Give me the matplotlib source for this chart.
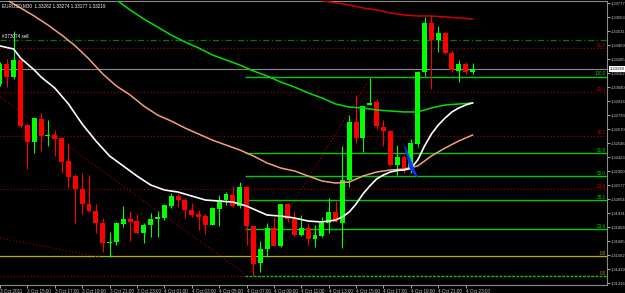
import matplotlib
matplotlib.use('Agg')
import matplotlib.pyplot as plt
import matplotlib.transforms as mtransforms

plt.rcParams['font.family'] = 'Liberation Sans'

# --- chart data (EURUSD M30, 3-4 Oct 2011) ---
header = 'EURUSD,M30  1.33262 1.33274 1.33177 1.33219'
order_label = '#373074 sell'

opens = [1.33068, 1.33243, 1.33129, 1.33279, 1.32707, 1.32558, 1.32760, 1.32611, 1.32619, 1.32593,
         1.32391, 1.32259, 1.32145, 1.32013, 1.31951, 1.31846, 1.31670, 1.31679, 1.31837, 1.31881,
         1.31863, 1.31758, 1.31828, 1.31881, 1.31890, 1.31995, 1.32083, 1.32048, 1.31960, 1.31925,
         1.31907, 1.31828, 1.31969, 1.32048, 1.32092, 1.31995, 1.32162, 1.31819, 1.31494, 1.31617,
         1.31802, 1.31644, 1.32013, 1.31881, 1.31740, 1.31802, 1.31705, 1.31732, 1.31846, 1.31943,
         1.31846, 1.32224, 1.32734, 1.32593, 1.32883, 1.32909, 1.32690, 1.32655, 1.32356, 1.32426,
         1.32329, 1.32540, 1.33173, 1.33604, 1.33454, 1.33516, 1.33340, 1.33182, 1.33243, 1.33173]
highs = [1.33261, 1.33287, 1.33534, 1.33287, 1.32716, 1.32769, 1.32813, 1.32751, 1.32663, 1.32602,
         1.32549, 1.32277, 1.32285, 1.32268, 1.32013, 1.31890, 1.31767, 1.31855, 1.31995, 1.31951,
         1.31925, 1.31846, 1.31934, 1.31951, 1.32004, 1.32110, 1.32110, 1.32066, 1.32022, 1.31960,
         1.31925, 1.31986, 1.32092, 1.32118, 1.32171, 1.32206, 1.32171, 1.31819, 1.31688, 1.31846,
         1.31899, 1.32013, 1.32022, 1.31951, 1.31916, 1.31846, 1.31828, 1.31899, 1.32066, 1.32039,
         1.32523, 1.32795, 1.32971, 1.32874, 1.33120, 1.32936, 1.32751, 1.32663, 1.32531, 1.32444,
         1.32584, 1.33182, 1.33657, 1.33674, 1.33577, 1.33525, 1.33358, 1.33279, 1.33261, 1.33252]
lows = [1.33050, 1.33041, 1.33112, 1.32681, 1.32320, 1.32461, 1.32479, 1.32523, 1.32435, 1.32285,
        1.32153, 1.31846, 1.31925, 1.31943, 1.31758, 1.31591, 1.31547, 1.31652, 1.31811, 1.31688,
        1.31749, 1.31670, 1.31723, 1.31723, 1.31872, 1.31978, 1.31986, 1.31890, 1.31899, 1.31784,
        1.31749, 1.31828, 1.31819, 1.32004, 1.31986, 1.31978, 1.31652, 1.31380, 1.31415, 1.31547,
        1.31644, 1.31635, 1.31855, 1.31732, 1.31732, 1.31652, 1.31635, 1.31723, 1.31758, 1.31855,
        1.31626, 1.32162, 1.32549, 1.32470, 1.32883, 1.32672, 1.32523, 1.32347, 1.32268, 1.32285,
        1.32285, 1.32514, 1.33138, 1.33024, 1.33349, 1.33331, 1.33173, 1.33085, 1.33156, 1.33156]
closes = [1.33243, 1.33129, 1.33279, 1.32698, 1.32558, 1.32769, 1.32611, 1.32619, 1.32584, 1.32382,
          1.32250, 1.32145, 1.32013, 1.31951, 1.31846, 1.31670, 1.31679, 1.31846, 1.31881, 1.31855,
          1.31758, 1.31828, 1.31881, 1.31899, 1.32004, 1.32083, 1.32048, 1.31960, 1.31916, 1.31899,
          1.31828, 1.31978, 1.32048, 1.32101, 1.31995, 1.32162, 1.31819, 1.31485, 1.31617, 1.31802,
          1.31644, 1.32013, 1.31881, 1.31740, 1.31802, 1.31705, 1.31740, 1.31846, 1.31943, 1.31855,
          1.32224, 1.32734, 1.32593, 1.32874, 1.32901, 1.32698, 1.32655, 1.32356, 1.32426, 1.32329,
          1.32549, 1.33173, 1.33604, 1.33454, 1.33516, 1.33340, 1.33191, 1.33243, 1.33173, 1.33199]

time_labels = ['3 Oct 2011', '3 Oct 15:00', '3 Oct 17:00', '3 Oct 19:00', '3 Oct 21:00',
               '3 Oct 23:00', '4 Oct 01:00', '4 Oct 03:00', '4 Oct 05:00', '4 Oct 07:00',
               '4 Oct 09:00', '4 Oct 11:00', '4 Oct 13:00', '4 Oct 15:00', '4 Oct 17:00',
               '4 Oct 19:00', '4 Oct 21:00', '4 Oct 23:00']
price_ticks = [1.33777, 1.33653, 1.33531, 1.33409, 1.33285, 1.33162, 1.33040, 1.32916, 1.32793,
               1.32670, 1.32546, 1.32423, 1.32300, 1.32177, 1.32054, 1.31931, 1.31808, 1.31685,
               1.31562, 1.31439, 1.31316]

# moving averages (bar index, price)
white_bars = [0, 2, 3, 5, 6, 8, 10, 12, 14, 16, 18, 20, 22, 24, 26, 28, 30, 32, 34, 36, 37, 39, 41,
              43, 45, 47, 49, 50, 51, 52, 53, 54, 55, 56, 57, 58, 59, 60, 61, 62, 63, 64, 65, 66, 67, 68, 69]
white_ma = [1.33402, 1.33375, 1.33296, 1.33191, 1.33129, 1.33032, 1.32892, 1.32716, 1.32567, 1.32435,
            1.32347, 1.32259, 1.32180, 1.32136, 1.32118, 1.32083, 1.32048, 1.32039, 1.32030, 1.31995,
            1.31969, 1.31916, 1.31907, 1.31890, 1.31863, 1.31855, 1.31872, 1.31899, 1.31943, 1.32013,
            1.32101, 1.32171, 1.32233, 1.32268, 1.32294, 1.32307, 1.32312, 1.32325, 1.32400, 1.32523,
            1.32628, 1.32707, 1.32769, 1.32822, 1.32857, 1.32883, 1.32901]
salmon_bars = [0, 1, 3, 5, 7, 9, 11, 13, 15, 17, 19, 21, 23, 25, 27, 29, 31, 33, 35, 37, 39, 41, 43,
               45, 47, 49, 51, 53, 55, 57, 59, 61, 63, 65, 67, 69]
salmon_ma = [1.33841, 1.33806, 1.33736, 1.33665, 1.33586, 1.33498, 1.33402, 1.33287, 1.33156, 1.33050,
             1.32971, 1.32874, 1.32795, 1.32742, 1.32681, 1.32628, 1.32575, 1.32531, 1.32488, 1.32435,
             1.32373, 1.32329, 1.32303, 1.32259, 1.32215, 1.32197, 1.32206, 1.32259, 1.32294, 1.32312,
             1.32320, 1.32347, 1.32435, 1.32505, 1.32567, 1.32619]
green_bars = [16, 17, 19, 21, 23, 25, 27, 29, 31, 33, 35, 37, 39, 41, 43, 45, 47, 49, 51, 53, 55, 57,
              59, 61, 63, 65, 67, 69]
green_ma = [1.33841, 1.33806, 1.33718, 1.33639, 1.33569, 1.33498, 1.33437, 1.33384, 1.33323, 1.33279,
            1.33235, 1.33182, 1.33138, 1.33085, 1.33041, 1.32989, 1.32945, 1.32892, 1.32865, 1.32857,
            1.32839, 1.32830, 1.32822, 1.32822, 1.32857, 1.32883, 1.32892, 1.32901]
red_bars = [43, 45, 47, 49, 51, 53, 55, 57, 59, 61, 63, 65, 67, 69]
red_ma = [1.33841, 1.33820, 1.33800, 1.33780, 1.33762, 1.33736, 1.33718, 1.33692, 1.33674, 1.33665,
          1.33665, 1.33657, 1.33648, 1.33639]

# horizontal objects
order_price = 1.33454
yellow_price = 1.31556
yellow_label = '0.0'
red_fib_names = ['61.8', '50.0', '38.2', '23.6']
red_fib_prices = [1.33384, 1.32997, 1.32611, 1.32145]
red_fib_zero = 1.31380
green_fib_names = ['100.0', '61.8', '50.0', '38.2', '23.6', '0.0']
green_fib_prices = [1.33132, 1.32461, 1.32255, 1.32048, 1.31793, 1.31380]
green_fib_start = 35.8

# dotted trend lines (bar, price) pairs
trend_lines = [([0.0, 35.8], [1.32953, 1.31398]),
               ([0.0, 14.6], [1.31714, 1.31547]),
               ([36.5, 54.0], [1.31415, 1.33112])]
blue_mark_bars = [59.1, 59.9, 60.9, 59.1]
blue_mark_prices = [1.32523, 1.32325, 1.32250, 1.32523]

# --- plotting ---
fig = plt.figure(figsize=(6.25, 2.93), dpi=100, facecolor='black')
ax = fig.add_axes([0.0, 8 / 293, 607 / 625, 284 / 293], facecolor='black')

fs = 3.3      # text inside the chart and time axis
fs_y = 2.95   # price axis (narrow strip on the right)
bull, bear = '#00ff00', '#ff0000'
for i, (o, h, l, c) in enumerate(zip(opens, highs, lows, closes)):
    col = bull if c >= o else bear
    ax.vlines(i, l, h, color=col, lw=0.8, zorder=5)
    if abs(c - o) < 0.00003:
        ax.hlines(o, i - 0.36, i + 0.36, color=col, lw=1.2, zorder=6)
    else:
        ax.bar(i, c - o, bottom=o, width=0.72, color=col, lw=0, zorder=6)

# horizontal levels
ax.axhline(order_price, color='#007a00', lw=0.9, ls=(0, (5, 2, 1, 2)), zorder=2)
for name, p in zip(red_fib_names, red_fib_prices):
    ax.axhline(p, color='#b00000', lw=0.8, ls=(0, (1, 2)), zorder=2)
    ax.text(88.45, p + 0.00004, name, color='#c00000', fontsize=fs, ha='right', va='bottom', zorder=8)
ax.axhline(red_fib_zero, color='#b00000', lw=0.8, ls=(0, (1, 2)), zorder=2)
ax.axhline(yellow_price, color='#b4b400', lw=0.9, zorder=2)
ax.text(88.45, yellow_price + 0.00004, yellow_label, color='#c8a000', fontsize=fs,
        ha='right', va='bottom', zorder=8)
ax.axhline(closes[-1], color='#8a8a8a', lw=0.8, zorder=2)
for name, p in zip(green_fib_names, green_fib_prices):
    ls = (0, (2, 1)) if name == '0.0' else '-'
    ax.hlines(p, green_fib_start, 88.7, color='#00cc00', lw=1.0, ls=ls, zorder=3)
    ax.text(88.45, p + 0.00004, name, color='#00cc00' if name != '0.0' else '#d08000',
            fontsize=fs, ha='right', va='bottom', zorder=8)

for xs, ys in trend_lines:
    ax.plot(xs, ys, color='#a00000', lw=0.8, ls=(0, (1, 2)), zorder=2)

# moving averages
ax.plot(salmon_bars, salmon_ma, color='#f4a07c', lw=1.1, zorder=7)
ax.plot(green_bars, green_ma, color='#00e000', lw=1.1, zorder=7)
ax.plot(red_bars, red_ma, color='#d40000', lw=1.1, zorder=7)
ax.plot(white_bars, white_ma, color='white', lw=1.2, zorder=7)
ax.fill(blue_mark_bars, blue_mark_prices, color='#1030ff', lw=0.8, zorder=8)

# texts
ax.text(0.003, 0.992, header, transform=ax.transAxes, color='white', fontsize=fs,
        ha='left', va='top', zorder=9)
ax.text(0.3, order_price + 0.0001, order_label, color='white', fontsize=fs,
        ha='left', va='bottom', zorder=9)
trans = mtransforms.blended_transform_factory(ax.transAxes, ax.transData)
ax.text(1.004, closes[-1], '%.5f' % closes[-1], transform=trans, color='black', fontsize=fs_y,
        ha='left', va='center', zorder=9,
        bbox=dict(boxstyle='square,pad=0.15', fc='white', ec='none'))

# axes
ax.set_xlim(0.03, 88.64)
ax.set_ylim(1.31301, 1.33797)
ax.yaxis.tick_right()
ax.set_yticks(price_ticks)
ax.set_yticklabels(['%.5f' % p for p in price_ticks])
ax.set_xticks(range(0, 4 * len(time_labels), 4))
ax.set_xticklabels(time_labels)
for lab in ax.get_xticklabels():
    lab.set_ha('left')
ax.tick_params(axis='y', colors='#c8c8c8', labelsize=fs_y, length=2, width=0.6, pad=0.8)
ax.tick_params(axis='x', colors='#c8c8c8', labelsize=fs, length=2, width=0.6, pad=1)
for side in ['top', 'right', 'bottom']:
    ax.spines[side].set_color('#8a8a8a')
    ax.spines[side].set_linewidth(0.8)
ax.spines['left'].set_visible(False)

plt.savefig('out.png', dpi=100, facecolor='black')
